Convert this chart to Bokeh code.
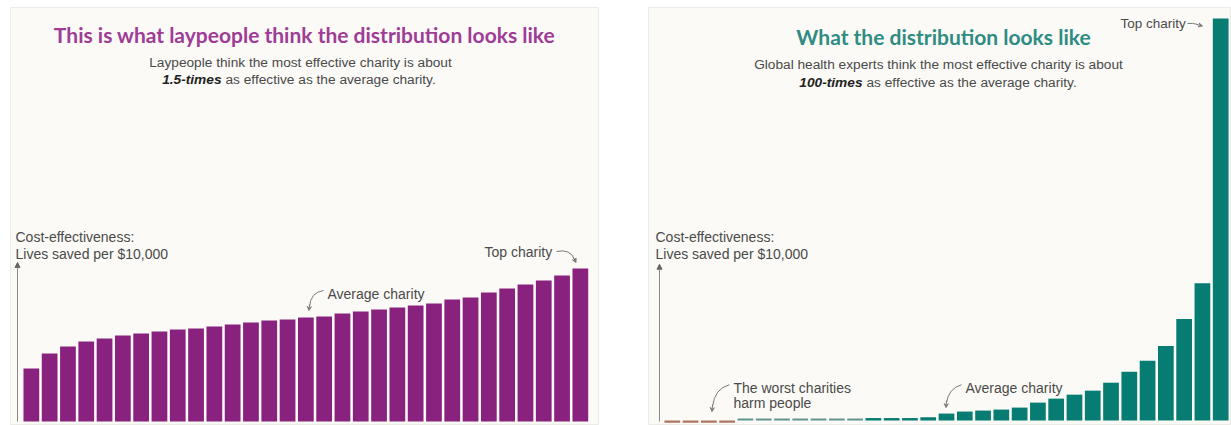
from bokeh.plotting import figure
from bokeh.layouts import row
from bokeh.models import Range1d, Arrow, NormalHead, VeeHead, ColumnDataSource
from bokeh.core.properties import value
from bokeh.embed import file_html
from bokeh.resources import INLINE

# ---------------- data (arbitrary units) ----------------
ranks = list(range(31))
lay_values = [5.3, 6.8, 7.5, 8.0, 8.3, 8.6, 8.8, 9.0, 9.2, 9.3, 9.5, 9.7, 9.9, 10.1,
              10.2, 10.4, 10.5, 10.8, 11.0, 11.2, 11.4, 11.6, 11.8, 12.2, 12.4, 12.9,
              13.3, 13.7, 14.1, 14.6, 15.3]
expert_values = [-0.22, -0.22, -0.22, -0.22, 0.2, 0.2, 0.2, 0.2, 0.2, 0.2, 0.2,
                 0.25, 0.25, 0.25, 0.33, 0.7, 0.9, 1.0, 1.1, 1.3, 1.8, 2.2, 2.6, 3.0, 3.8,
                 4.9, 6.0, 7.5, 10.2, 13.8, 40.4]

left_title = "This is what laypeople think the distribution looks like"
left_sub1 = "Laypeople think the most effective charity is about"
left_sub_bold = "1.5-times"
right_title = "What the distribution looks like"
right_sub1 = "Global health experts think the most effective charity is about"
right_sub_bold = "100-times"
sub_rest = "as effective as the average charity."
axis_lines = ["Cost-effectiveness:", "Lives saved per $10,000"]

# ---------------- style ----------------
PANEL_BG = "#FBFAF6"
PURPLE = "#88227E"
PURPLE_T = "#9E3C96"
TEAL = "#067C72"
TEAL_T = "#2E8C83"
TEAL_FLAT = "#5E968F"
BROWN = "#AE7560"
TXT = "#4A4A4A"
ARR = "#7A7A7A"
SANS = value("Liberation Sans")
H = 425


def make_fig(width, bl, br, bt, xr, yr):
    p = figure(width=width, height=H, x_range=Range1d(*xr), y_range=Range1d(*yr),
               output_backend="svg", toolbar_location=None,
               min_border_left=bl, min_border_right=br, min_border_top=bt, min_border_bottom=0,
               x_axis_location=None, y_axis_location=None,
               background_fill_color=PANEL_BG, border_fill_color="white",
               outline_line_color="#ECEBE5", outline_line_width=1)
    p.grid.visible = False
    return p


# ---------- left panel (page px geometry -> data) ----------
P1, C1, B1, K1 = 18.3, 30.85, 421.0, 10.0


def L(px, py):
    return (px - C1) / P1, (B1 - py) / K1


l_x0, l_y0 = L(10, 425)
l_x1, l_y1 = L(598, 7)
p1 = make_fig(620, 10, 22, 7, (l_x0, l_x1), (l_y0, l_y1))
p1.vbar(x=ranks, top=lay_values, bottom=0, width=0.86, fill_color=PURPLE, line_color=None)

# ---------- right panel ----------
P2, C2, B2, K2 = 18.28, 671.8, 420.0, 10.0


def R(px, py):
    return (px - C2) / P2, (B2 - py) / K2


r_x0, r_y0 = R(648, 425)
r_x1, r_y1 = R(1231, 5)
p2 = make_fig(611, 28, 0, 5, (r_x0, r_x1), (r_y0, r_y1))
colors = [BROWN if v < 0 else (TEAL_FLAT if v < 0.22 else TEAL) for v in expert_values]
src = ColumnDataSource(dict(x=ranks, top=expert_values, c=colors))
p2.vbar(x="x", top="top", bottom=0, width=0.86, fill_color="c", line_color=None, source=src)


def text(p, f, px, py, s, size="14px", color=TXT, align="left", font=SANS, style="normal"):
    x, y = f(px, py)
    p.text(x=[x], y=[y], text=[s], text_font=font, text_font_size=size, text_color=color,
           text_align=align, text_baseline="middle", text_font_style=style)


def curve(p, f, a, b, c):
    (x0, y0), (x1, y1), (cx, cy) = f(*a), f(*b), f(*c)
    p.quadratic(x0=[x0], y0=[y0], x1=[x1], y1=[y1], cx=[cx], cy=[cy],
                line_color=ARR, line_width=1)


def head(p, f, a, b):
    (x0, y0), (x1, y1) = f(*a), f(*b)
    p.add_layout(Arrow(end=VeeHead(size=4, line_color=ARR, fill_color=ARR, line_width=1),
                       x_start=x0, y_start=y0, x_end=x1, y_end=y1,
                       line_color=ARR, line_width=1))


def yarrow(p, f, px, pbase, ptop):
    (x0, y0), (x1, y1) = f(px, pbase), f(px, ptop)
    p.add_layout(Arrow(end=NormalHead(size=5, line_color="#666", fill_color="#666"),
                       x_start=x0, y_start=y0, x_end=x1, y_end=y1,
                       line_color="#8A8A8A", line_width=1))


# left texts
text(p1, L, 304, 34, left_title, size="21px", color=PURPLE_T, align="center",
     font=value("Lato"), style="bold")
text(p1, L, 300, 62, left_sub1, size="13.7px", align="center")
text(p1, L, 221, 79, left_sub_bold, size="13.7px", align="right", style="bold italic", color="#222")
text(p1, L, 225, 79, sub_rest, size="13.7px")
text(p1, L, 15, 236, axis_lines[0])
text(p1, L, 15, 253, axis_lines[1])
yarrow(p1, L, 17, 421, 262)
text(p1, L, 327, 293, "Average charity")
curve(p1, L, (323, 290), (309, 306), (310, 292))
head(p1, L, (309, 304), (308.5, 310))
text(p1, L, 484, 251, "Top charity")
curve(p1, L, (556, 251), (574, 259), (570, 248))
head(p1, L, (573, 257), (575.5, 262))

# right texts
text(p2, R, 943, 34, right_title, size="21px", color=TEAL_T, align="center",
     font=value("Lato"), style="bold")
text(p2, R, 938, 62, right_sub1, size="13.7px", align="center")
text(p2, R, 862, 80, right_sub_bold, size="13.7px", align="right", style="bold italic", color="#222")
text(p2, R, 866, 80, sub_rest, size="13.7px")
text(p2, R, 655, 236, axis_lines[0])
text(p2, R, 655, 253, axis_lines[1])
yarrow(p2, R, 659, 421, 263)
text(p2, R, 733, 387, "The worst charities")
text(p2, R, 733, 402, "harm people")
curve(p2, R, (729, 384), (712, 406), (714, 388))
head(p2, R, (712, 404), (711.5, 411))
text(p2, R, 965, 387, "Average charity")
curve(p2, R, (961, 384), (946, 402), (948, 388))
head(p2, R, (946, 400), (945.5, 407))
text(p2, R, 1120, 21, "Top charity", size="13.5px")
curve(p2, R, (1187, 21), (1197, 22), (1192, 20.5))
head(p2, R, (1196, 22), (1202, 23.5))

layout = row(p1, p2)
open("out.html", "w").write(file_html(layout, INLINE))
